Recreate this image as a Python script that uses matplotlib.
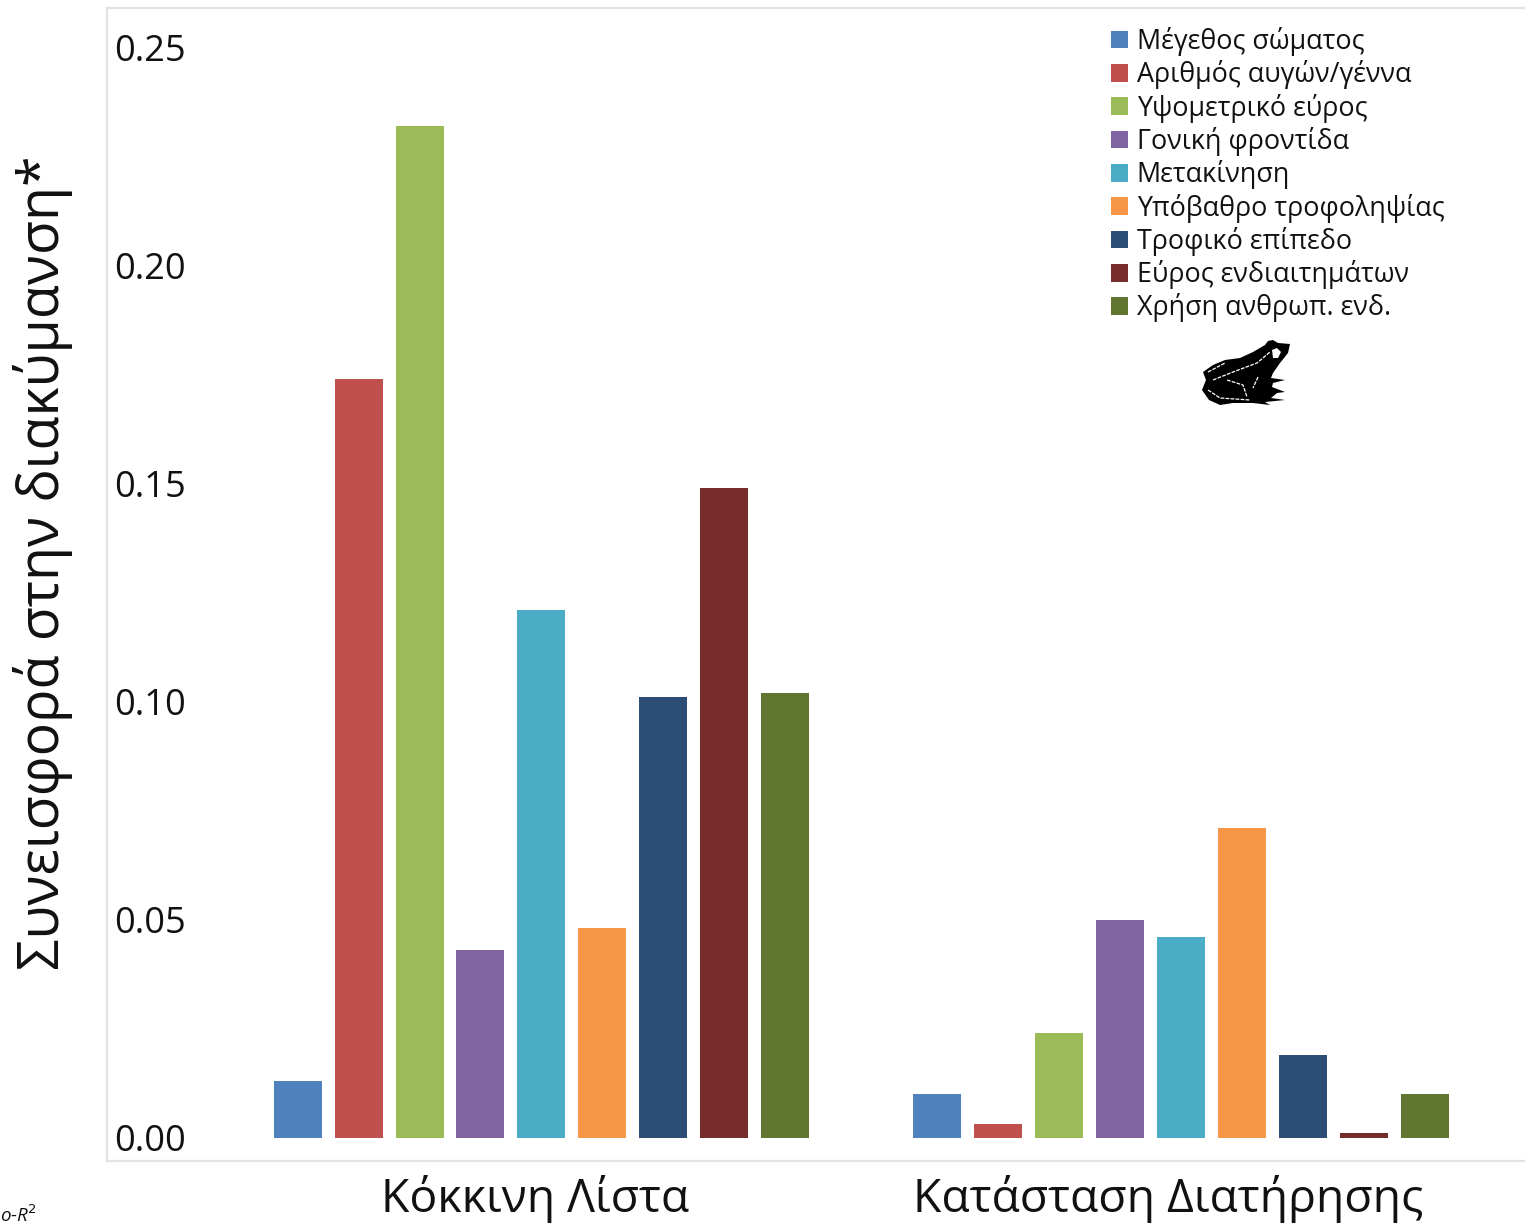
import numpy as np
import matplotlib
matplotlib.use("Agg")
import matplotlib.pyplot as plt
from matplotlib.patches import Polygon

plt.rcParams['font.family'] = ['Open Sans', 'DejaVu Sans']

categories = ["Κόκκινη Λίστα", "Κατάσταση Διατήρησης"]
traits = ["Μέγεθος σώματος", "Αριθμός αυγών/γέννα", "Υψομετρικό εύρος",
          "Γονική φροντίδα", "Μετακίνηση", "Υπόβαθρο τροφοληψίας",
          "Τροφικό επίπεδο", "Εύρος ενδιαιτημάτων", "Χρήση ανθρωπ. ενδ."]
colors = ["#4F81BD", "#C0504D", "#9BBB59", "#8064A2", "#4BACC6",
          "#F79646", "#2C4D75", "#772C2A", "#5F7530"]
red_list = [0.013, 0.174, 0.232, 0.043, 0.121, 0.048, 0.101, 0.149, 0.102]
conservation = [0.010, 0.003, 0.024, 0.050, 0.046, 0.071, 0.019, 0.001, 0.010]
yticks = [0.00, 0.05, 0.10, 0.15, 0.20, 0.25]

W, H = 1525, 1224
fig = plt.figure(figsize=(W / 100, H / 100), dpi=100)
# frame runs off the right edge in the original
ax = fig.add_axes([107 / W, 1 - 1161 / H, (W - 107 + 4) / W, (1161 - 8) / H])

step = 0.0952
width = 0.075
x = np.arange(len(categories))
for i, name in enumerate(traits):
    vals = [red_list[i], conservation[i]]
    ax.bar(x + (i - 4) * step, vals, width, color=colors[i], label=name)

ax.set_xlim(-0.679, 1.544)
# 218 px per 0.05, zero sits 23.5 px above the frame
ax.set_ylim(-23.5 / 4360, (1137.5 - 8) / 4360)

for s in ax.spines.values():
    s.set_color("#E3E3E3")
    s.set_linewidth(1.6)

ax.set_yticks(yticks)
ax.set_yticklabels(["%.2f" % v for v in yticks], fontsize=26, ha='left', color='#111111')
ax.tick_params(axis='y', length=0, pad=-5)
ax.set_xticks([-0.01, 0.98])
ax.set_xticklabels(categories, fontsize=33.3, color='#111111')
ax.tick_params(axis='x', length=0, pad=10)

fig.text(43 / W, 1 - 563 / H, "Συνεισφορά στην διακύμανση*", rotation=90,
         fontsize=40, ha='center', va='center', color='#111111')

fig.text(0, 1 - 1222 / H, "o-R$^{2}$", fontsize=13.5, style='italic',
         ha='left', va='baseline', color='#111111')

ax.legend(loc='upper left', bbox_to_anchor=(1111 / W, 1 - 27 / H),
          bbox_transform=fig.transFigure, frameon=False, fontsize=19.4,
          handlelength=0.63, handleheight=0.63, handletextpad=0.33,
          labelspacing=0.16, borderpad=0, borderaxespad=0, labelcolor='#111111')

# frog silhouette, in image pixels
def px(pts):
    return [(a / W, 1 - b / H) for a, b in pts]

frog = [(1203, 372), (1213, 365), (1225, 360), (1240, 358), (1253, 352), (1265, 345),
        (1268, 341), (1273, 340), (1278, 343), (1290, 344), (1288, 353), (1280, 363),
        (1273, 373), (1271, 378), (1285, 380), (1273, 383), (1272, 387), (1285, 392),
        (1277, 393), (1271, 398), (1285, 400), (1265, 402), (1270, 405), (1253, 403),
        (1233, 403), (1220, 405), (1209, 400), (1202, 390), (1206, 380)]
fig.add_artist(Polygon(px(frog), closed=True, transform=fig.transFigure,
                       facecolor='black', edgecolor='none'))
eye = [(1272, 350), (1277, 348), (1281, 352), (1278, 358), (1273, 358)]
fig.add_artist(Polygon(px(eye), closed=True, transform=fig.transFigure,
                       facecolor='white', edgecolor='none'))
for seg in ([(1208, 372), (1225, 363)],
            [(1213, 380), (1233, 372), (1257, 363), (1270, 352)],
            [(1208, 390), (1220, 398), (1250, 400)],
            [(1227, 380), (1243, 385), (1247, 397)],
            [(1258, 377), (1253, 388)]):
    xy = np.array(px(seg))
    fig.add_artist(plt.Line2D(xy[:, 0], xy[:, 1], transform=fig.transFigure,
                              color='white', lw=0.9, ls=(0, (3, 1))))

fig.savefig("out.png", dpi=100, facecolor='white')
